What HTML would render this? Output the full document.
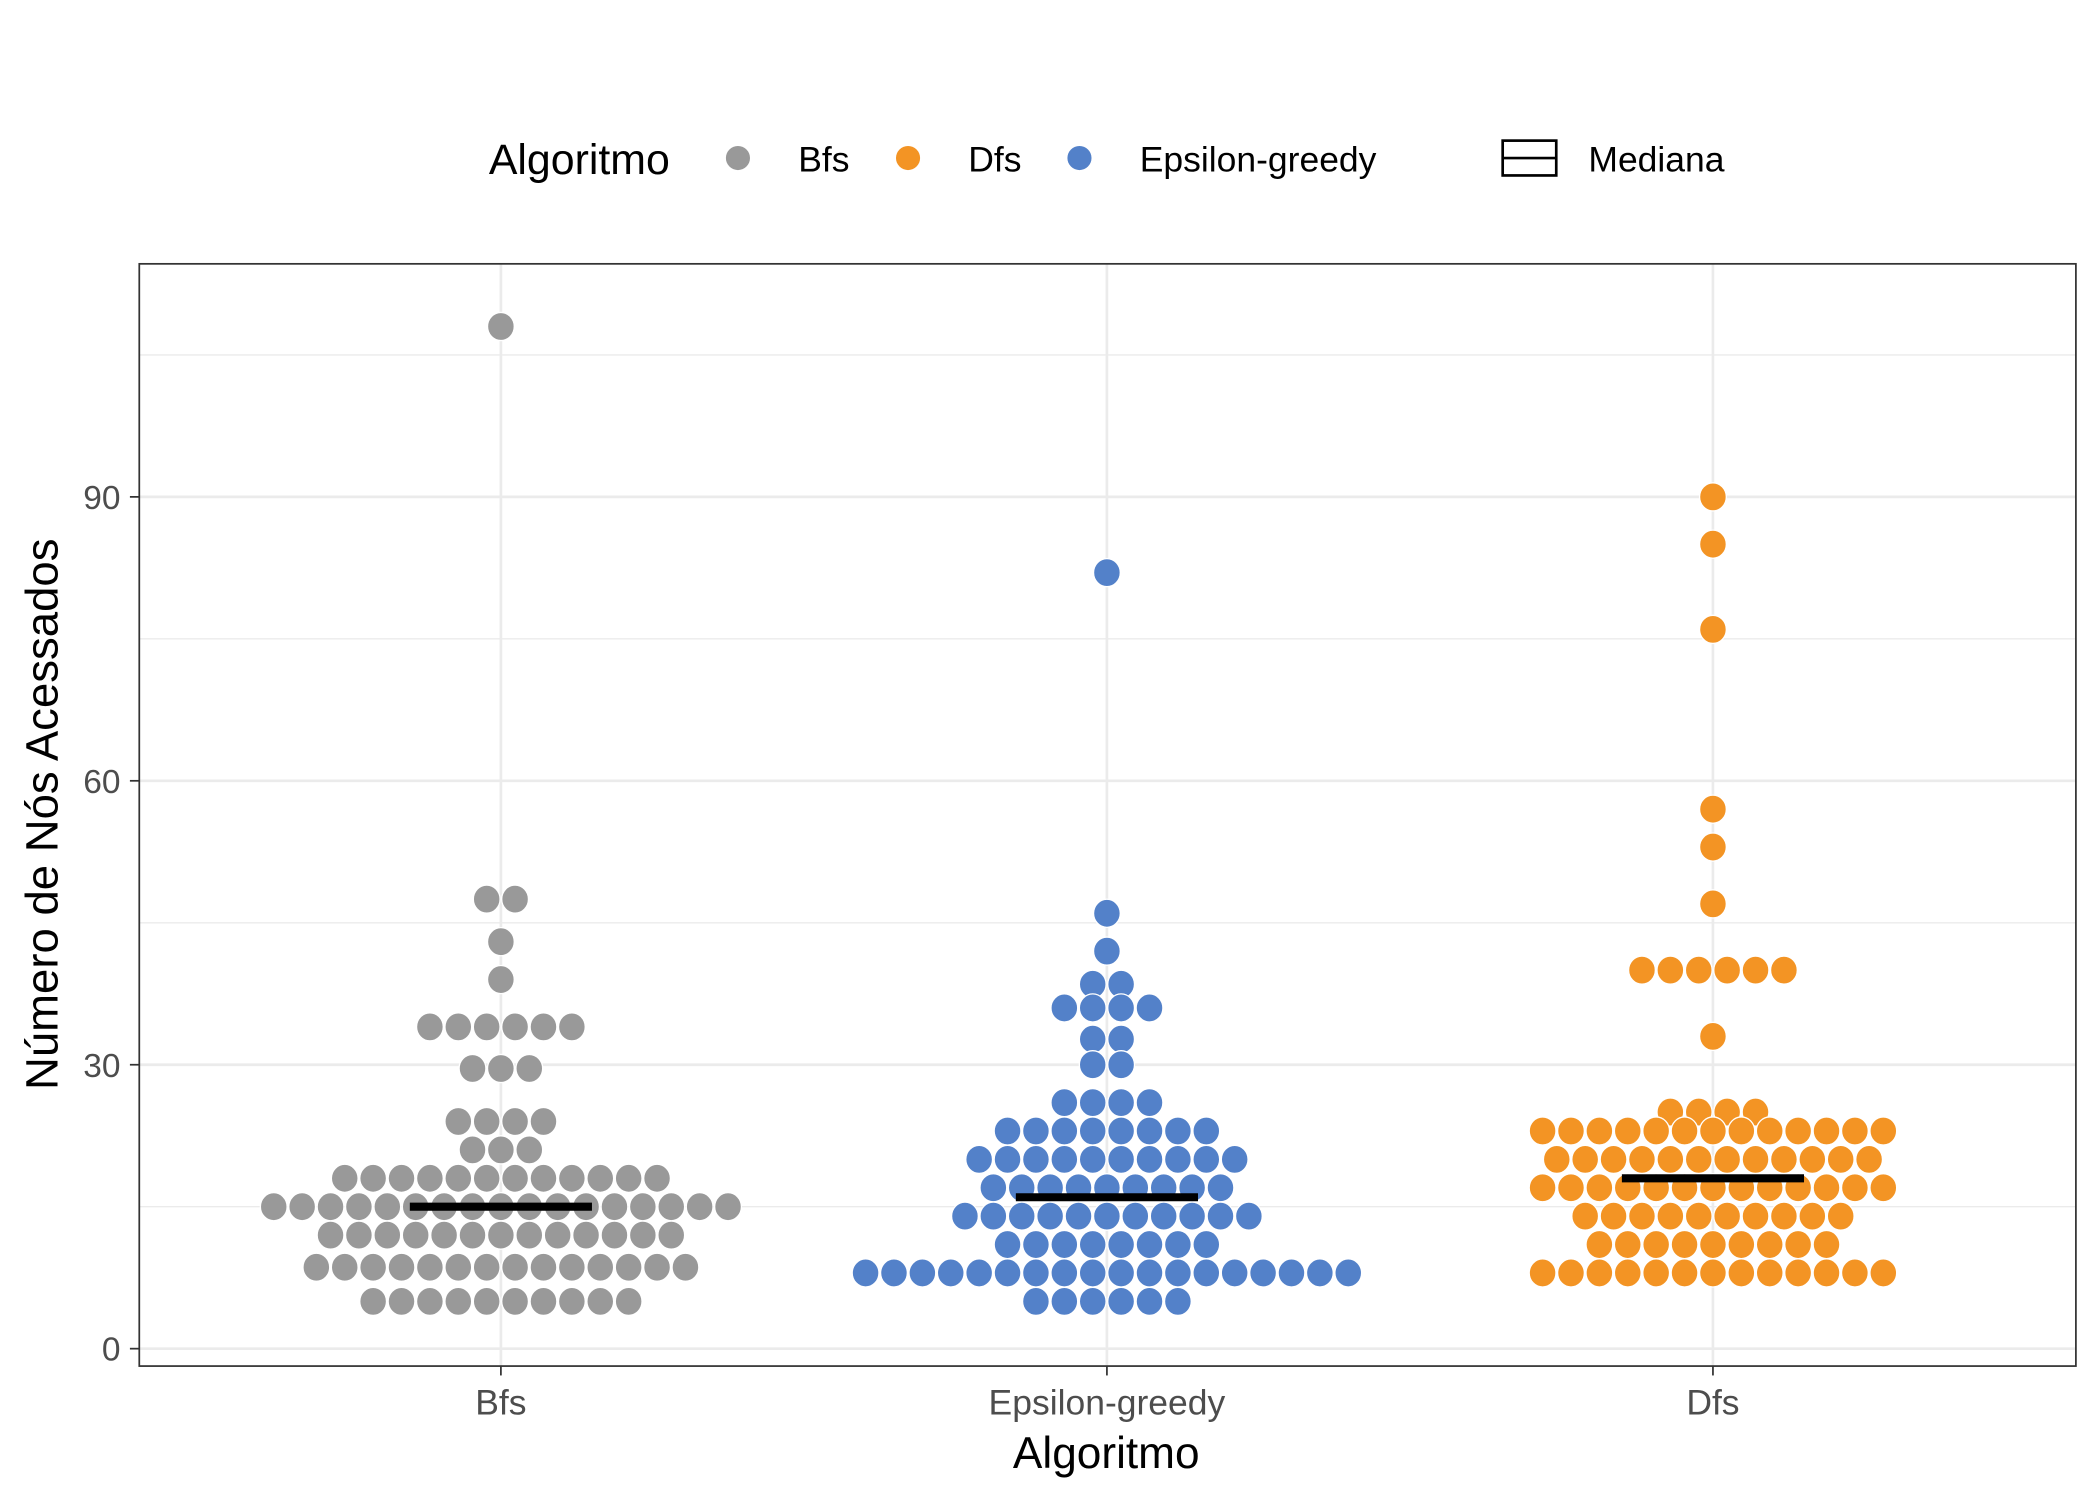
<!DOCTYPE html>
<html><head><meta charset="utf-8"><style>
html,body{margin:0;padding:0;background:#fff;}
svg{display:block;font-family:"Liberation Sans",sans-serif;}
</style></head><body>
<svg id="chart" width="2100" height="1499" viewBox="0 0 1568 1119.25" preserveAspectRatio="none" xmlns="http://www.w3.org/2000/svg">
<rect width="1568" height="1120" fill="#fff"/>
<g id="grid"></g>
<g id="dots"></g>
<g id="medians"></g>
<rect x="104" y="197" width="1446" height="823" fill="none" stroke="#333" stroke-width="1.3"/>
<g id="axes"></g>
<text x="826" y="1096" font-size="33" text-anchor="middle">Algoritmo</text>
<text transform="translate(43,608) rotate(-90)" font-size="34" text-anchor="middle">Número de Nós Acessados</text>
<g>
<text x="365" y="130" font-size="32">Algoritmo</text>
<circle cx="551" cy="118" r="9" fill="#999999"/>
<text x="596" y="128" font-size="26.5">Bfs</text>
<circle cx="678" cy="118" r="9" fill="#F39424"/>
<text x="723" y="128" font-size="26.5">Dfs</text>
<circle cx="806" cy="118" r="9" fill="#5381C9"/>
<text x="851" y="128" font-size="26.5">Epsilon-greedy</text>
<rect x="1122" y="105" width="40" height="26" fill="none" stroke="#000" stroke-width="2"/>
<line x1="1122" y1="118" x2="1162" y2="118" stroke="#000" stroke-width="2"/>
<text x="1186" y="128" font-size="26.5">Mediana</text>
</g>
</svg>
<script>
const categories = ["Bfs", "Epsilon-greedy", "Dfs"];
const bfsValues = [108, 47.5, 43, 39, 34, 29.6, 24, 21, 18, 15, 12, 8.6, 5];
const bfsCounts = [1, 2, 1, 1, 6, 3, 4, 3, 12, 17, 13, 14, 10];
const epsValues = [82, 46, 42, 38.5, 36, 32.7, 30, 26, 23, 20, 17, 14, 11, 8, 5];
const epsCounts = [1, 1, 1, 2, 4, 2, 2, 4, 8, 10, 9, 11, 8, 18, 6];
const dfsValues = [90, 85, 76, 57, 53, 47, 40, 33, 25, 23, 20, 17, 14, 11, 8];
const dfsCounts = [1, 1, 1, 1, 1, 1, 6, 1, 4, 13, 12, 13, 10, 9, 13];
const medians = [15, 16, 18];
const yTicks = [0, 30, 60, 90];
const yMinor = [15, 45, 75, 105];

const NS = "http://www.w3.org/2000/svg";
const colors = ["#999999", "#5381C9", "#F39424"];
function yScale(v){ return 1007 - v * (636/90); }
function xScale(i){ return 374 + i * 452.5; }
function mk(tag, attrs, parent){ const e=document.createElementNS(NS,tag); for(const k in attrs) e.setAttribute(k,attrs[k]); parent.appendChild(e); return e; }

const grid=document.getElementById('grid');
yMinor.forEach(v=>{ const l=mk('line',{x1:104,x2:1550,y1:yScale(v),y2:yScale(v),stroke:'#ebebeb','stroke-width':1},grid);

 });
yTicks.forEach(v=>{ const l=mk('line',{x1:104,x2:1550,y1:yScale(v),y2:yScale(v),stroke:'#ebebeb','stroke-width':2},grid);

 });
categories.forEach((c,i)=>{ const l=mk('line',{x1:xScale(i),x2:xScale(i),y1:197,y2:1020,stroke:'#ebebeb','stroke-width':2},grid);

 });

const axes=document.getElementById('axes');
yTicks.forEach(v=>{
  const t=mk('line',{x1:97,x2:104,y1:yScale(v),y2:yScale(v),stroke:'#333','stroke-width':1.3},axes);
  
  
  const tx=mk('text',{x:90,y:yScale(v)+9,'font-size':25,'text-anchor':'end',fill:'#4d4d4d'},axes);
  tx.textContent=v;
  
  
});
categories.forEach((c,i)=>{
  const t=mk('line',{x1:xScale(i),x2:xScale(i),y1:1020,y2:1027,stroke:'#333','stroke-width':1.3},axes);
  
  
  const tx=mk('text',{x:xScale(i),y:1056,'font-size':26.5,'text-anchor':'middle',fill:'#4d4d4d'},axes);
  tx.textContent=c;
  
  
});

const dots=document.getElementById('dots');
const series=[[bfsValues,bfsCounts],[epsValues,epsCounts],[dfsValues,dfsCounts]];
series.forEach((s,gi)=>{
  s[0].forEach((v,ri)=>{
    const n=s[1][ri];
    for(let k=0;k<n;k++){
      const cx=xScale(gi)+(k-(n-1)/2)*21.2;
      const d=mk('ellipse',{cx:cx,cy:yScale(v),rx:10,ry:10.5,fill:colors[gi],stroke:'#fff','stroke-width':1},dots);
      
      
    }
  });
});
const med=document.getElementById('medians');
medians.forEach((m,i)=>{
  const l=mk('line',{x1:xScale(i)-68,x2:xScale(i)+68,y1:yScale(m),y2:yScale(m),stroke:'#000','stroke-width':6},med);
  
  
});
</script>
</body></html>
